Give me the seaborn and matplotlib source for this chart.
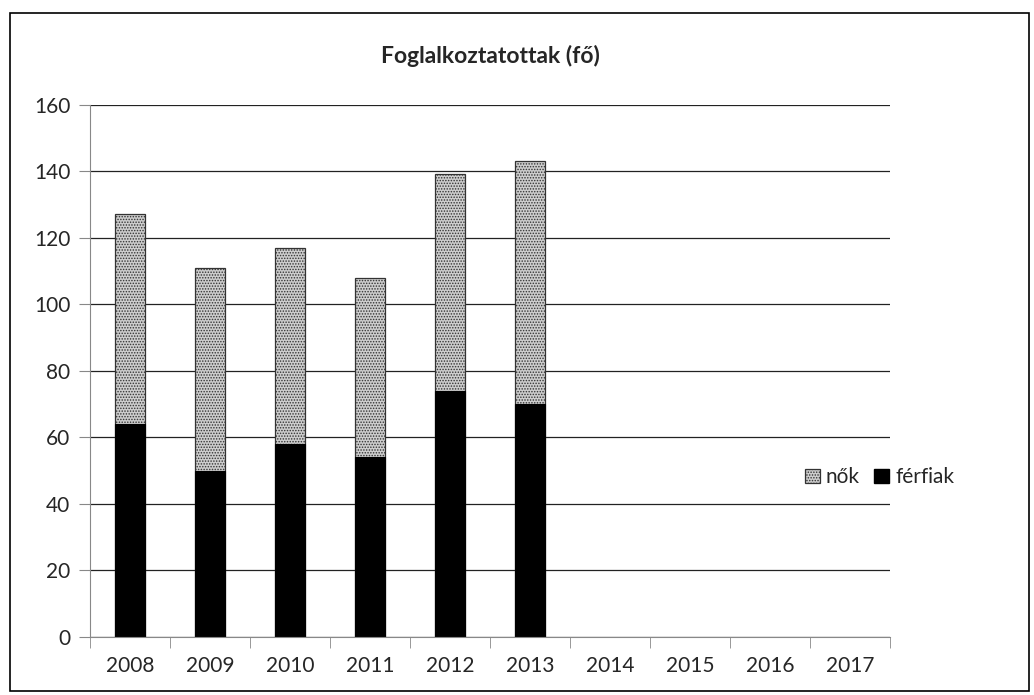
import pandas as pd
import numpy as np
import matplotlib
matplotlib.use('Agg')
import matplotlib.pyplot as plt
from matplotlib.patches import Patch, Rectangle
import seaborn as sns

# data (2014-2017 empty)
years = ['2008', '2009', '2010', '2011', '2012', '2013', '2014', '2015', '2016', '2017']
ferfiak = [64, 50, 58, 54, 74, 70, np.nan, np.nan, np.nan, np.nan]
nok = [63, 61, 59, 54, 65, 73, np.nan, np.nan, np.nan, np.nan]

df = pd.DataFrame({'ev': years, 'ferfiak': ferfiak, 'nok': nok})
df['osszes'] = df['ferfiak'] + df['nok']

sns.set_style("white")
plt.rcParams['font.family'] = ['Lato', 'DejaVu Sans']
plt.rcParams['hatch.linewidth'] = 0.7

fig = plt.figure(figsize=(10.34, 6.95), dpi=100)
ax = fig.add_axes([0.087, 0.0835, 0.774, 0.766])

stipple = dict(facecolor='#cdcdcd', edgecolor='#333333', hatch='......', linewidth=0.9)

# total bar first (stippled), men drawn over it
sns.barplot(data=df, x='ev', y='osszes', order=years, width=0.375,
            ax=ax, errorbar=None, **stipple)
sns.barplot(data=df, x='ev', y='ferfiak', order=years, width=0.375,
            ax=ax, errorbar=None, color='black', edgecolor='black', linewidth=0.8)

ax.set_ylim(0, 160)
ax.set_xlim(-0.5, 9.5)
ax.set_yticks(range(0, 161, 20))
ax.yaxis.grid(True, color='#222222', linewidth=0.9)
ax.set_axisbelow(True)

ax.set_xlabel('')
ax.set_ylabel('')
ax.set_title('Foglalkoztatottak (fő)', fontsize=16.5, fontweight='bold', pad=30)

for s in ['top', 'right']:
    ax.spines[s].set_visible(False)
ax.spines['left'].set_color('#888888')
ax.spines['bottom'].set_color('#888888')

ax.tick_params(axis='y', length=8, color='#888888', labelsize=15, pad=6, left=True)
ax.tick_params(axis='x', which='major', length=0, labelsize=15, pad=14)
ax.set_xticks(np.arange(-0.5, 10, 1), minor=True)
ax.tick_params(axis='x', which='minor', length=8, color='#888888', bottom=True)

handles = [Patch(**stipple, label='nők'),
           Patch(facecolor='black', edgecolor='black', label='férfiak')]
ax.legend(handles=handles, loc='center left', bbox_to_anchor=(0.87, 0.30),
          ncol=2, frameon=False, fontsize=15, handlelength=0.7, handleheight=0.7,
          handletextpad=0.3, columnspacing=0.7)

# outer chart frame
fig.patches.append(Rectangle((0.01, 0.006), 0.985, 0.975, transform=fig.transFigure,
                             fill=False, edgecolor='black', linewidth=1.2))

plt.savefig('out.png', dpi=100)
